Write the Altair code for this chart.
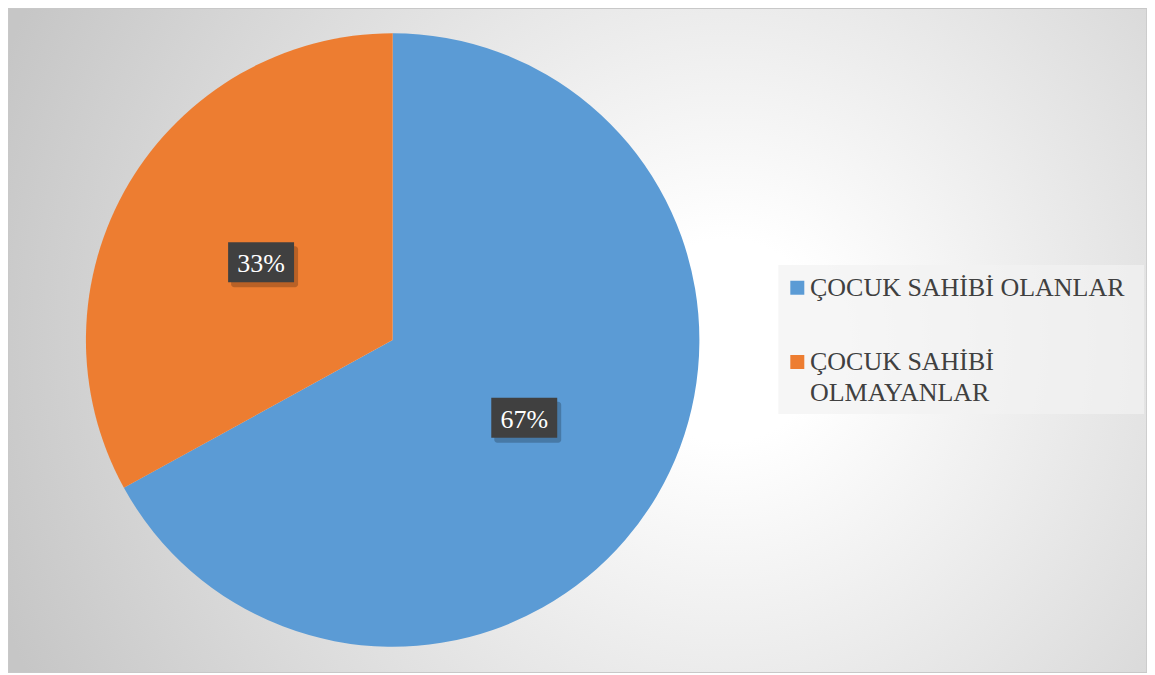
import altair as alt
import pandas as pd

# ---- data ----
categories = ["ÇOCUK SAHİBİ OLANLAR", "ÇOCUK SAHİBİ OLMAYANLAR"]
values = [67, 33]
value_labels = ["67%", "33%"]
legend_labels = ["ÇOCUK SAHİBİ OLANLAR", "ÇOCUK SAHİBİ\nOLMAYANLAR"]
colors = ["#5B9BD5", "#ED7D31"]

df = pd.DataFrame({
    "cat": categories,
    "value": values,
    "label": value_labels,
    "legend": legend_labels,
    "idx": list(range(len(categories))),
})

W, H = 1140, 665
CX, CY, R = 385, 332, 307
LR = 153
FONT = "Times New Roman, Liberation Serif, serif"

color_scale = alt.Scale(domain=categories, range=colors)

base = alt.Chart(df)

bg = alt.Chart(pd.DataFrame({"a": [0]})).mark_rect(
    fill=alt.Gradient(
        gradient="radial",
        stops=[
            alt.GradientStop(color="#ffffff", offset=0),
            alt.GradientStop(color="#ffffff", offset=0.13),
            alt.GradientStop(color="#c6c6c6", offset=1),
        ],
        x1=0.63, y1=0.5, x2=0.63, y2=0.5, r1=0, r2=0.68,
    ),
    stroke="#c8c8c8",
    strokeWidth=1.5,
).encode(x=alt.value(0), x2=alt.value(W), y=alt.value(0), y2=alt.value(H))

pie = base.mark_arc(outerRadius=R, x=CX, y=CY).encode(
    theta=alt.Theta("value:Q", stack=True),
    color=alt.Color("cat:N", scale=color_scale, legend=None),
    order=alt.Order("idx:Q"),
)

pos = base.transform_joinaggregate(total="sum(value)").transform_window(
    cum="sum(value)", sort=[alt.SortField("idx")]
).transform_calculate(
    mid="(datum.cum - datum.value/2) / datum.total * 2 * PI",
).transform_calculate(
    lx=f"{CX} + {LR} * sin(datum.mid)",
    ly=f"{CY} - {LR} * cos(datum.mid)",
).transform_calculate(
    bx1="datum.lx - 33", bx2="datum.lx + 33",
    by1="datum.ly - 20", by2="datum.ly + 20",
    sx1="datum.lx - 30", sx2="datum.lx + 37",
    sy1="datum.ly - 16", sy2="datum.ly + 25",
)

shadow = pos.mark_rect(fill="#000000", opacity=0.22, cornerRadius=3).encode(
    x=alt.X("sx1:Q", scale=None), x2="sx2:Q",
    y=alt.Y("sy1:Q", scale=None), y2="sy2:Q",
)
box = pos.mark_rect(fill="#404040").encode(
    x=alt.X("bx1:Q", scale=None), x2="bx2:Q",
    y=alt.Y("by1:Q", scale=None), y2="by2:Q",
)
txt = pos.mark_text(
    font=FONT, fontSize=26, color="#ffffff", align="center",
    baseline="alphabetic", dy=10,
).encode(
    x=alt.X("lx:Q", scale=None), y=alt.Y("ly:Q", scale=None), text="label:N",
)

legend_bg = alt.Chart(pd.DataFrame({"a": [0]})).mark_rect(
    fill="#f2f2f2", opacity=0.7
).encode(x=alt.value(771), x2=alt.value(1137), y=alt.value(257), y2=alt.value(406))

ly_scale = alt.Scale(type="point", domain=categories, range=[279.7, 354], padding=0)

leg_sym = base.mark_square(size=196, opacity=1).encode(
    x=alt.value(790),
    y=alt.Y("cat:N", scale=ly_scale, axis=None),
    color=alt.Color("cat:N", scale=color_scale, legend=None),
)
leg_txt = base.mark_text(
    font=FONT, fontSize=26, color="#404040", align="left",
    baseline="alphabetic", dy=8, lineBreak="\n", lineHeight=31.5,
).encode(
    x=alt.value(802.7),
    y=alt.Y("cat:N", scale=ly_scale, axis=None),
    text="legend:N",
)

chart = alt.layer(
    bg, pie, shadow, box, txt, legend_bg, leg_sym, leg_txt
).properties(
    width=W, height=H,
    autosize=alt.AutoSizeParams(type="none"),
    padding=0,
).configure_view(stroke=None)

chart.save("out.html", embed_options={"renderer": "svg", "actions": False})
